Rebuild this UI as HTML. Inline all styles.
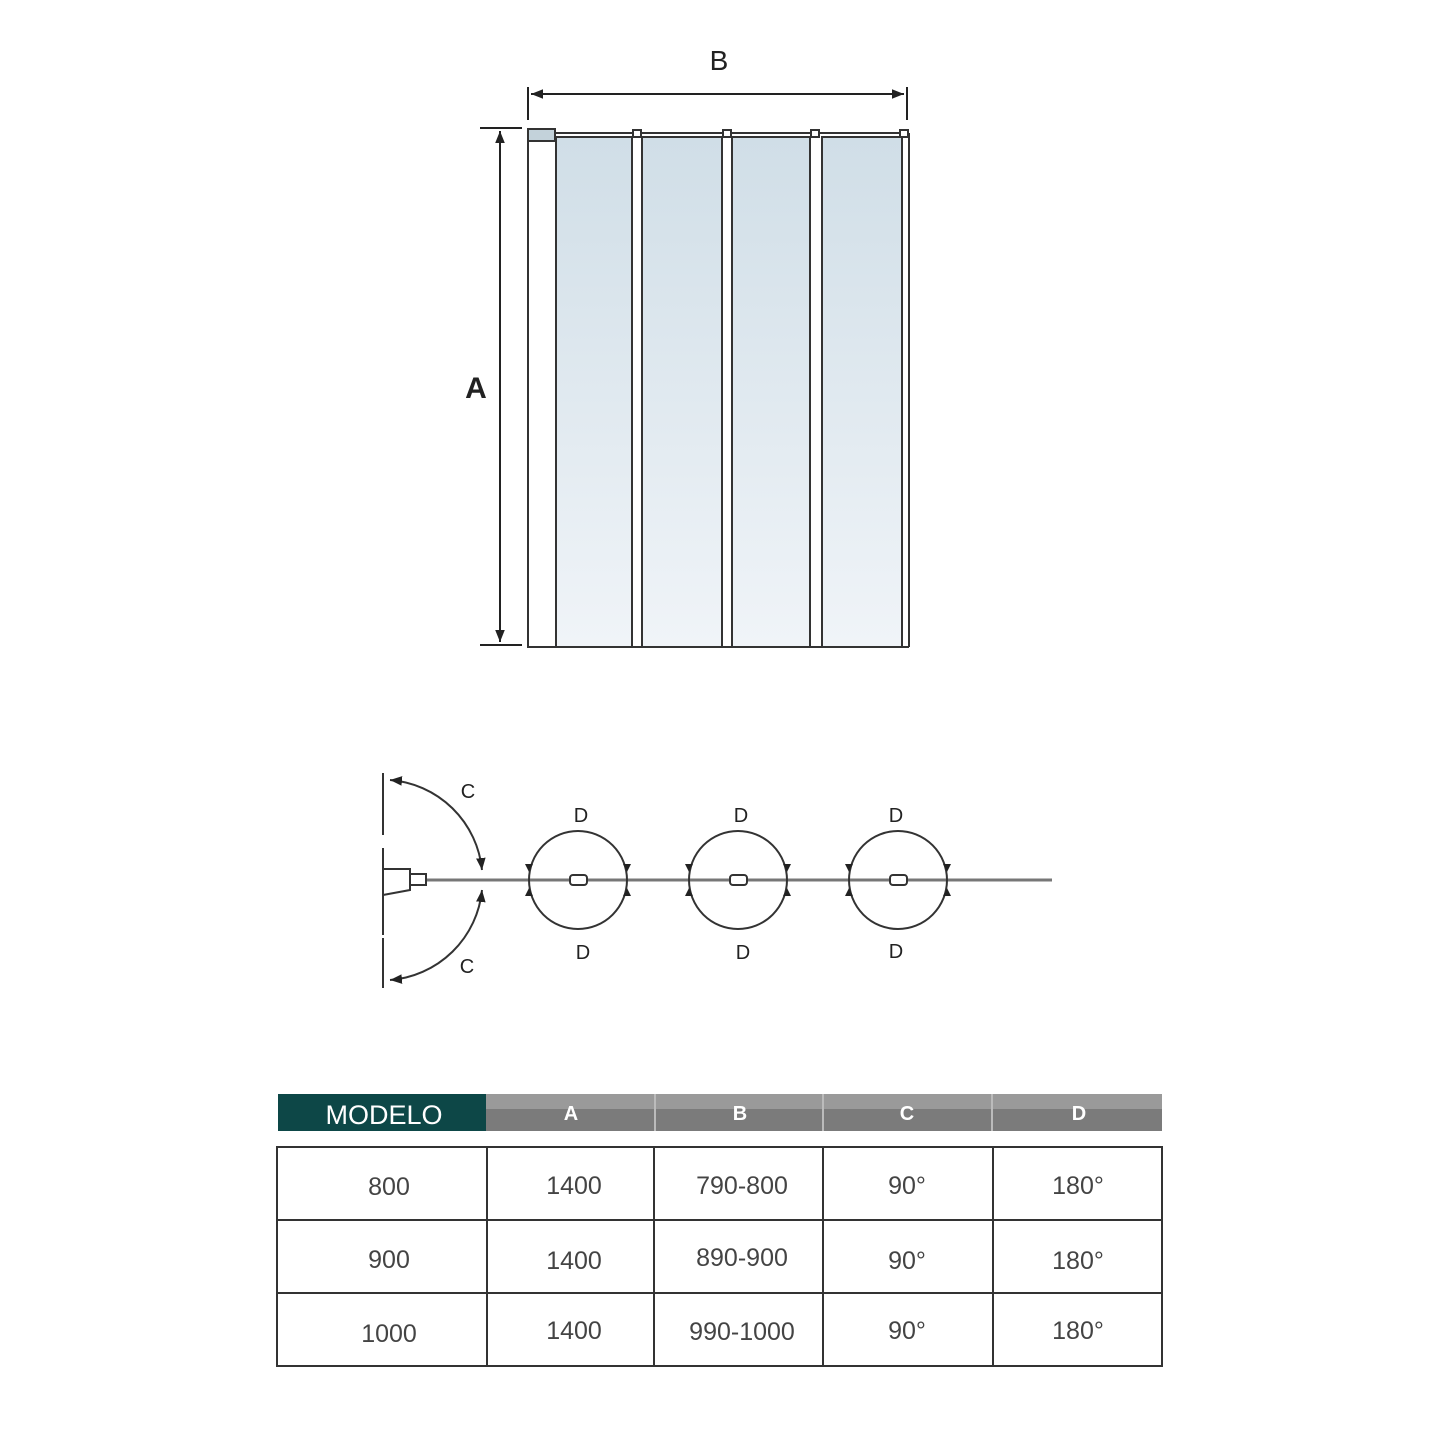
<!DOCTYPE html>
<html><head><style>body{margin:0;background:#fff}svg{display:block}text{font-family:"Liberation Sans",sans-serif}</style></head><body>
<svg width="1445" height="1445" viewBox="0 0 1445 1445" xmlns="http://www.w3.org/2000/svg">
<defs>
<linearGradient id="g" x1="0" y1="0" x2="0" y2="1"><stop offset="0" stop-color="#d0dee7"/><stop offset="1" stop-color="#f0f4f8"/></linearGradient>
<marker id="ar" viewBox="0 0 10 10" refX="10" refY="5" markerWidth="6" markerHeight="6" orient="auto-start-reverse"><path d="M0,1 L10,5 L0,9z" fill="#222"/></marker>
</defs>
<g fill="none" stroke="#222" stroke-width="2">
<line x1="528" y1="87" x2="528" y2="120"/><line x1="907" y1="87" x2="907" y2="120"/>
<line x1="531" y1="94" x2="904" y2="94" marker-start="url(#ar)" marker-end="url(#ar)"/>
<line x1="480" y1="128" x2="522" y2="128"/><line x1="480" y1="645" x2="522" y2="645"/>
<line x1="500" y1="131" x2="500" y2="642" marker-start="url(#ar)" marker-end="url(#ar)"/>
</g>
<text x="719" y="70" font-size="28" text-anchor="middle" fill="#222">B</text>
<text x="476" y="398" font-size="30" font-weight="bold" text-anchor="middle" fill="#222">A</text>
<g stroke="#333" stroke-width="2">
<rect x="556" y="137" width="76" height="510" fill="url(#g)"/>
<rect x="642" y="137" width="80" height="510" fill="url(#g)"/>
<rect x="732" y="137" width="78" height="510" fill="url(#g)"/>
<rect x="822" y="137" width="80" height="510" fill="url(#g)"/>
<rect x="528" y="141" width="28" height="506" fill="#fff"/>
<rect x="528" y="129" width="27" height="12" fill="#c3d2da"/>
<line x1="555" y1="133" x2="907" y2="133"/>
<line x1="909" y1="133" x2="909" y2="647"/>
<line x1="528" y1="647" x2="909" y2="647"/>
<rect x="633" y="130" width="8" height="7" fill="#fff"/>
<rect x="723" y="130" width="8" height="7" fill="#fff"/>
<rect x="811" y="130" width="8" height="7" fill="#fff"/>
<rect x="900" y="130" width="8" height="7" fill="#fff"/>
</g>
<g fill="none" stroke="#333" stroke-width="2">
<line x1="383" y1="773" x2="383" y2="835"/><line x1="383" y1="848" x2="383" y2="935"/><line x1="383" y1="938" x2="383" y2="988"/>
<line x1="420" y1="880" x2="1052" y2="880" stroke-width="3" stroke="#777"/>
<path d="M383,869 L410,869 L410,890 L383,895"/>
<rect x="410" y="874" width="16" height="11" fill="#fff"/>
<path d="M390,780 A100,100 0 0 1 482,870" marker-start="url(#ar)" marker-end="url(#ar)"/>
<path d="M482,890 A100,100 0 0 1 390,980" marker-start="url(#ar)" marker-end="url(#ar)"/>
<circle cx="578" cy="880" r="49"/><circle cx="738" cy="880" r="49"/><circle cx="898" cy="880" r="49"/>
<rect x="570" y="875" width="17" height="10" rx="3" fill="#fff"/>
<rect x="730" y="875" width="17" height="10" rx="3" fill="#fff"/>
<rect x="890" y="875" width="17" height="10" rx="3" fill="#fff"/>
</g>
<g fill="#222">
<path d="M525,864 l4,8 l4,-8z"/><path d="M525,896 l4,-8 l4,8z"/><path d="M623,864 l4,8 l4,-8z"/><path d="M623,896 l4,-8 l4,8z"/>
<path d="M685,864 l4,8 l4,-8z"/><path d="M685,896 l4,-8 l4,8z"/><path d="M783,864 l4,8 l4,-8z"/><path d="M783,896 l4,-8 l4,8z"/>
<path d="M845,864 l4,8 l4,-8z"/><path d="M845,896 l4,-8 l4,8z"/><path d="M943,864 l4,8 l4,-8z"/><path d="M943,896 l4,-8 l4,8z"/>
</g>
<g font-size="20" fill="#222" text-anchor="middle">
<text x="468" y="798">C</text><text x="467" y="973">C</text>
<text x="581" y="822">D</text><text x="741" y="822">D</text><text x="896" y="822">D</text>
<text x="583" y="959">D</text><text x="743" y="959">D</text><text x="896" y="958">D</text>
</g>
<rect x="278" y="1094" width="208" height="37" fill="#0d4747"/>
<rect x="486" y="1094" width="676" height="37" fill="#7b7b7b"/>
<rect x="486" y="1094" width="676" height="15" fill="#9a9a9a"/>
<g stroke="#bbb" stroke-width="2"><line x1="655" y1="1094" x2="655" y2="1131"/><line x1="823" y1="1094" x2="823" y2="1131"/><line x1="992" y1="1094" x2="992" y2="1131"/></g>
<text x="384" y="1124" font-size="27" fill="#fff" text-anchor="middle">MODELO</text>
<g font-size="20" font-weight="bold" fill="#fff" text-anchor="middle">
<text x="571" y="1120">A</text><text x="740" y="1120">B</text><text x="907" y="1120">C</text><text x="1079" y="1120">D</text></g>
<g fill="none" stroke="#333" stroke-width="2">
<rect x="277" y="1147" width="885" height="219"/>
<line x1="277" y1="1220" x2="1162" y2="1220"/><line x1="277" y1="1293" x2="1162" y2="1293"/>
<line x1="487" y1="1147" x2="487" y2="1366"/><line x1="654" y1="1147" x2="654" y2="1366"/><line x1="823" y1="1147" x2="823" y2="1366"/><line x1="993" y1="1147" x2="993" y2="1366"/>
</g>
<g font-size="25" fill="#444" text-anchor="middle">
<text x="389" y="1195">800</text><text x="574" y="1194">1400</text><text x="742" y="1194">790-800</text><text x="907" y="1194">90°</text><text x="1078" y="1194">180°</text>
<text x="389" y="1268">900</text><text x="574" y="1269">1400</text><text x="742" y="1266">890-900</text><text x="907" y="1269">90°</text><text x="1078" y="1269">180°</text>
<text x="389" y="1342">1000</text><text x="574" y="1339">1400</text><text x="742" y="1340">990-1000</text><text x="907" y="1339">90°</text><text x="1078" y="1339">180°</text>
</g>
</svg>
</body></html>
